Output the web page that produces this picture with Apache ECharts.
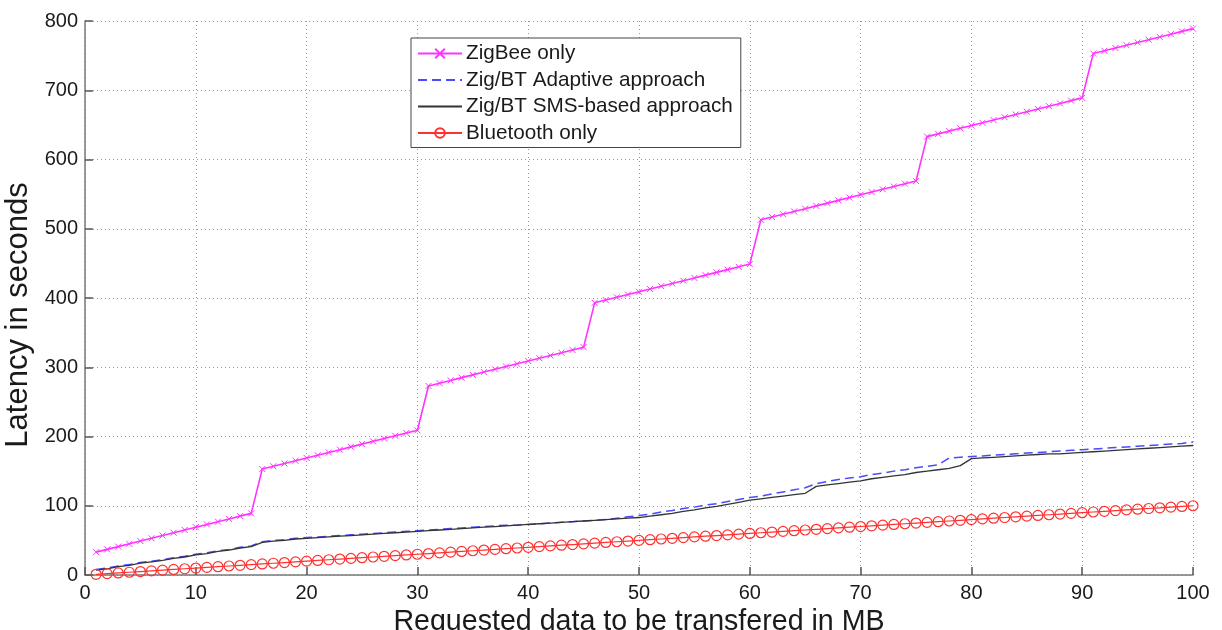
<!DOCTYPE html>
<html>
<head>
<meta charset="utf-8">
<script src="https://cdn.jsdelivr.net/npm/echarts@6/dist/echarts.min.js"></script>
<style>
html,body{margin:0;padding:0;background:#fff;}
#chart{width:1222px;height:630px;}
</style>
</head>
<body>
<div id="chart"></div>
<script>
const xValues = [1,2,3,4,5,6,7,8,9,10,11,12,13,14,15,16,17,18,19,20,21,22,23,24,25,26,27,28,29,30,31,32,33,34,35,36,37,38,39,40,41,42,43,44,45,46,47,48,49,50,51,52,53,54,55,56,57,58,59,60,61,62,63,64,65,66,67,68,69,70,71,72,73,74,75,76,77,78,79,80,81,82,83,84,85,86,87,88,89,90,91,92,93,94,95,96,97,98,99,100];

const zigbeeOnly = [33,37,41,45,49,53,57,61,65,69,73,77,81,85,89,
153,157,161,165,169,173,177,181,185,189,193,197,201,205,209,
273,277,281,285,289,293,297,301,305,309,313,317,321,325,329,
393,397,401,405,409,413,417,421,425,429,433,437,441,445,449,
513,517,521,525,529,533,537,541,545,549,553,557,561,565,569,
633,637,641,645,649,653,657,661,665,669,673,677,681,685,689,
753,757,761,765,769,773,777,781,785,789];

const adaptive = [8,10,13,15,18,20,22,25,27,30,32,35,37,40,42,
48,50,51,53,54,55,56,57,58,59,60,61,62,63,64,
65,66,67,68,69,70,71,72,72,73,74,75,76,77,78,
79,80,82,84,86,88,91,93,96,98,101,103,106,109,112,
114,117,120,123,126,132,135,138,140,142,145,147,150,152,155,
157,159,169,170,171,172,173,174,175,176,177,178,179,180,181,
182,183,184,185,186,187,188,189,190,192];

const smsBased = [7,9,12,14,17,19,21,24,26,29,31,34,36,39,41,
47,49,50,52,53,54,55,56,57,58,59,60,61,62,63,
64,65,66,67,68,69,70,71,72,73,74,75,76,77,78,
79,80,81,82,83,85,87,89,92,94,97,99,102,105,108,
110,112,114,116,118,128,130,132,134,136,139,141,143,145,148,
150,152,154,158,168,169,170,171,172,173,174,175,175,176,177,
178,179,180,181,182,183,184,185,186,187];

const bluetoothOnly = [1,2,3,4,5,6,7,8,9,10,11,12,13,14,15,16,17,18,19,20,21,22,23,24,25,26,27,28,29,30,31,32,33,34,35,36,37,38,39,40,41,42,43,44,45,46,47,48,49,50,51,52,53,54,55,56,57,58,59,60,61,62,63,64,65,66,67,68,69,70,71,72,73,74,75,76,77,78,79,80,81,82,83,84,85,86,87,88,89,90,91,92,93,94,95,96,97,98,99,100];

const seriesNames = ['ZigBee only','Zig/BT Adaptive approach','Zig/BT SMS-based approach','Bluetooth only'];
const xTitle = 'Requested data to be transfered in MB';
const yTitle = 'Latency in seconds';

function pairs(vals){ return xValues.map((x,i)=>[x, vals[i]]); }

const FONT = '"Liberation Sans", Arial, Helvetica, sans-serif';
const axisGray = '#7a7a7a';

const chart = echarts.init(document.getElementById('chart'), null, {renderer:'canvas'});
chart.setOption({
  animation:false,
  backgroundColor:'#ffffff',
  textStyle:{fontFamily:FONT},
  grid:{left:85, right:29, top:21, bottom:55, containLabel:false, outerBoundsMode:'none'},
  legend:{
    orient:'vertical',
    left:411, top:38,
    backgroundColor:'#ffffff',
    borderColor:'#444',
    borderWidth:1,
    padding:[5,8,4,6],
    itemGap:5.5,
    itemWidth:44,
    itemHeight:12,
    textStyle:{fontFamily:FONT, fontSize:20.7, color:'#1a1a1a', lineHeight:21, padding:[0,0,0,-1]},
    data:[
      {name:seriesNames[0]},
      {name:seriesNames[1], itemStyle:{opacity:0}},
      {name:seriesNames[2], itemStyle:{opacity:0}},
      {name:seriesNames[3]}
    ]
  },
  xAxis:{
    type:'value', min:0, max:100, interval:10,
    name:xTitle, nameLocation:'middle', nameGap:30,
    nameTextStyle:{fontFamily:FONT, fontSize:28.6, color:'#1a1a1a'},
    axisLine:{show:true, onZero:false, lineStyle:{color:axisGray, width:1.5}},
    axisTick:{show:true, inside:true, length:8, lineStyle:{color:'#555', width:1.5}},
    axisLabel:{fontFamily:FONT, fontSize:20, color:'#1a1a1a', margin:8},
    splitLine:{show:true, lineStyle:{color:'#9a9a9a', width:1, type:[1,3]}}
  },
  yAxis:{
    type:'value', min:0, max:800, interval:100,
    name:yTitle, nameLocation:'middle', nameGap:50, nameRotate:90,
    nameTextStyle:{fontFamily:FONT, fontSize:31, color:'#1a1a1a', padding:[0,34,0,0]},
    axisLine:{show:true, onZero:false, lineStyle:{color:axisGray, width:1.5}},
    axisTick:{show:true, inside:true, length:8, lineStyle:{color:'#555', width:1.5}},
    axisLabel:{fontFamily:FONT, fontSize:20, color:'#1a1a1a', margin:7},
    splitLine:{show:true, lineStyle:{color:'#9a9a9a', width:1, type:[1,3]}}
  },
  series:[
    {
      name:seriesNames[0], type:'line', data:pairs(zigbeeOnly),
      showSymbol:true, showAllSymbol:true,
      symbol:'path://M0,0L10,10M10,0L0,10', symbolSize:6,
      itemStyle:{color:'#ff33ff', borderColor:'#ff33ff', borderWidth:1},
      lineStyle:{color:'#ff33ff', width:1.6}, z:3
    },
    {
      name:seriesNames[1], type:'line', data:pairs(adaptive),
      showSymbol:false, symbol:'none',
      itemStyle:{color:'#4a4aff'},
      lineStyle:{color:'#4a4aff', width:1.5, type:[9,5]}, z:4
    },
    {
      name:seriesNames[2], type:'line', data:pairs(smsBased),
      showSymbol:false, symbol:'none',
      itemStyle:{color:'#333333'},
      lineStyle:{color:'#333333', width:1.3}, z:5
    },
    {
      name:seriesNames[3], type:'line', data:pairs(bluetoothOnly),
      showSymbol:true, showAllSymbol:true,
      symbol:'circle', symbolSize:10,
      itemStyle:{color:'rgba(255,255,255,0)', borderColor:'#ff3030', borderWidth:1.2},
      lineStyle:{color:'#ff3030', width:1.2}, z:6
    }
  ]
});
</script>
</body>
</html>
